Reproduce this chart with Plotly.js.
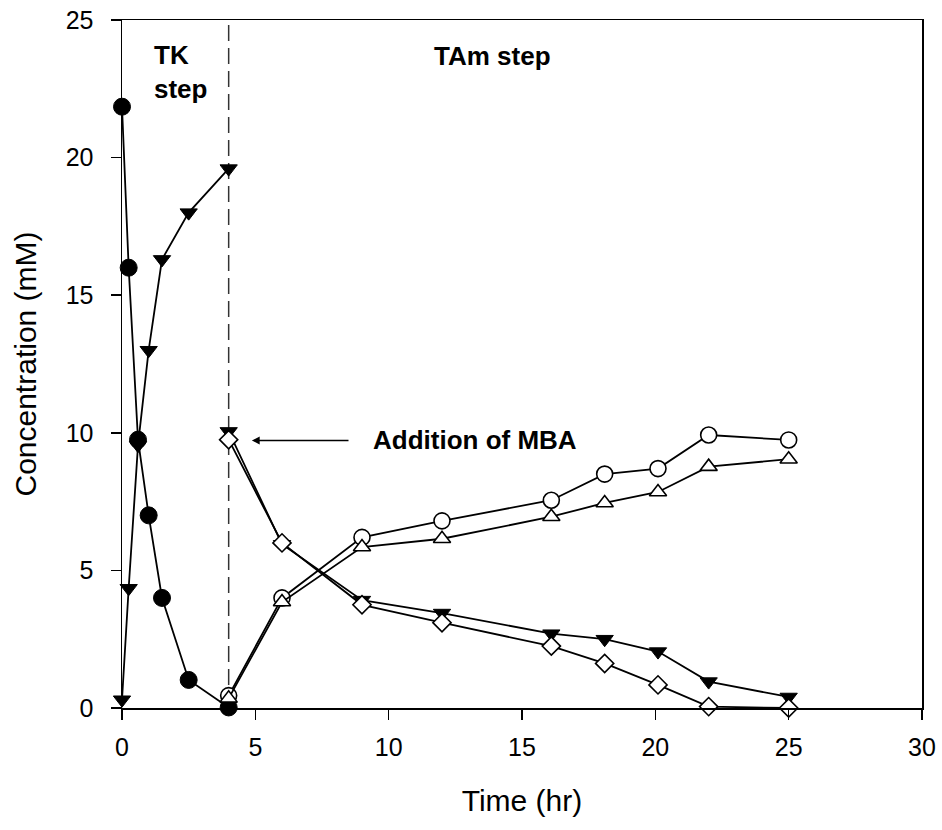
<!DOCTYPE html>
<html>
<head>
<meta charset="utf-8">
<script src="https://cdn.plot.ly/plotly-3.0.1.min.js"></script>
<style>html,body{margin:0;padding:0;background:#fff;}#chart{width:942px;height:830px;}</style>
</head>
<body>
<div id="chart"></div>
<script>
// TK step (time in hr)
const tkTime = [0, 0.25, 0.6, 1, 1.5, 2.5, 4];
const tkSubstrate = [21.85, 16.0, 9.75, 7.0, 4.0, 1.02, 0.02];     // filled circles
const tkProduct = [0.3, 4.35, 9.55, 13.0, 16.3, 18.0, 19.6];       // filled down-triangles

// TAm step (time in hr)
const tamTime = [4, 6, 9, 12, 16.1, 18.1, 20.1, 22, 25];
const tamErythrulose = [10.05, 5.95, 3.92, 3.45, 2.7, 2.5, 2.05, 0.96, 0.4];  // filled down-triangles
const tamMBA = [9.75, 6.0, 3.75, 3.1, 2.25, 1.62, 0.84, 0.05, 0];            // open diamonds
const tamProductA = [0.45, 4.0, 6.2, 6.8, 7.55, 8.5, 8.7, 9.92, 9.74];        // open circles
const tamProductB = [0.35, 3.85, 5.85, 6.15, 6.95, 7.45, 7.85, 8.77, 9.04];   // open up-triangles

const xTicks = [0, 5, 10, 15, 20, 25, 30];
const yTicks = [0, 5, 10, 15, 20, 25];

const FONT = "Liberation Sans, Arial, Helvetica, sans-serif";
const lineStyle = {color: "black", width: 1.8};

function filled(sym, size) {
  return {symbol: sym, size: size, color: "black", line: {color: "black", width: 1}};
}
function open(sym, size) {
  return {symbol: sym, size: size, color: "white", line: {color: "black", width: 1.6}};
}

const traces = [
  {x: tkTime, y: tkSubstrate, mode: "lines+markers", line: lineStyle, marker: filled("circle", 17), cliponaxis: false, name: "TK substrate"},
  {x: tkTime, y: tkProduct, mode: "lines+markers", line: lineStyle, marker: filled("triangle-down", 15), cliponaxis: false, name: "TK product"},
  {x: tamTime, y: tamProductA, mode: "lines+markers", line: lineStyle, marker: open("circle", 16), cliponaxis: false, name: "TAm product A"},
  {x: tamTime, y: tamProductB, mode: "lines+markers", line: lineStyle, marker: open("triangle-up", 15), cliponaxis: false, name: "TAm product B"},
  {x: tamTime, y: tamErythrulose, mode: "lines+markers", line: lineStyle, marker: filled("triangle-down", 15), cliponaxis: false, name: "TAm substrate"},
  {x: tamTime, y: tamMBA, mode: "lines+markers", line: lineStyle, marker: open("diamond", 14), cliponaxis: false, name: "MBA"}
];

const axisCommon = {
  showline: true, linecolor: "black", linewidth: 1.5, mirror: true,
  ticks: "outside", ticklen: 10, tickwidth: 1.5, tickcolor: "black",
  showgrid: false, zeroline: false,
  tickfont: {family: FONT, size: 25, color: "black"}
};

const layout = {
  width: 942, height: 830,
  margin: {l: 122, r: 20, t: 20, b: 122},
  paper_bgcolor: "white", plot_bgcolor: "white",
  showlegend: false,
  xaxis: Object.assign({}, axisCommon, {
    range: [0, 30], tickvals: xTicks, ticktext: xTicks.map(String),
    ticklabelstandoff: 6,
    title: {text: "Time (hr)", font: {family: FONT, size: 30, color: "black"}, standoff: 30}
  }),
  yaxis: Object.assign({}, axisCommon, {
    range: [0, 25], tickvals: yTicks, ticktext: yTicks.map(String),
    ticklabelstandoff: 12,
    title: {text: "Concentration (mM)", font: {family: FONT, size: 30, color: "black"}, standoff: 20}
  }),
  shapes: [
    {type: "line", xref: "x", yref: "y", x0: 4, x1: 4, y0: 0, y1: 25,
     line: {color: "#333", width: 1.5, dash: "16px,7px"}, layer: "below"}
  ],
  annotations: [
    {x: 1.12, y: 23.1, xref: "x", yref: "y", xanchor: "left", yanchor: "middle", align: "left",
     text: "<b>TK</b><br><b>step</b>", showarrow: false,
     font: {family: FONT, size: 26, color: "black"}},
    {x: 13.9, y: 23.7, xref: "x", yref: "y", xanchor: "center", yanchor: "middle",
     text: "<b>TAm step</b>", showarrow: false,
     font: {family: FONT, size: 26, color: "black"}},
    {x: 13.24, y: 9.75, xref: "x", yref: "y", xanchor: "center", yanchor: "middle",
     text: "<b>Addition of MBA</b>", showarrow: false,
     font: {family: FONT, size: 26, color: "black"}},
    {x: 4.87, y: 9.72, xref: "x", yref: "y", ax: 8.55, ay: 9.72, axref: "x", ayref: "y",
     text: "", showarrow: true, arrowhead: 2, arrowsize: 1.2, arrowwidth: 1.3, arrowcolor: "black"}
  ]
};

Plotly.newPlot("chart", traces, layout, {displayModeBar: false, staticPlot: true});
</script>
</body>
</html>
